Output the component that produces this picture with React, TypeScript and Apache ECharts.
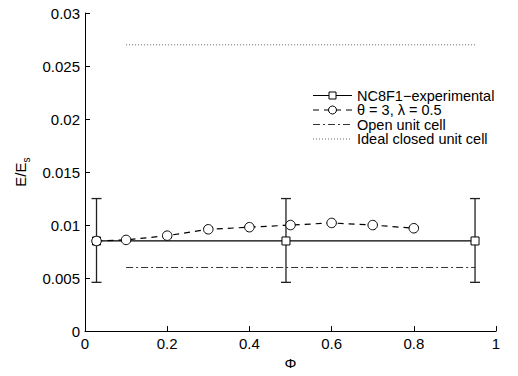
import React, { useEffect, useRef } from "react";
import * as echarts from "echarts";

// Experimental stiffness of NC8F1 foam with its scatter band
const phiExp = [0.028, 0.489, 0.949];
const eExp = [0.0085, 0.0085, 0.0085];
const errLow = [0.0046, 0.0046, 0.0046];
const errHigh = [0.0125, 0.0125, 0.0125];

// Model prediction, theta = 3, lambda = 0.5
const phiModel = [0.028, 0.1, 0.2, 0.3, 0.4, 0.5, 0.6, 0.7, 0.8];
const eModel = [0.0085, 0.0086, 0.009, 0.0096, 0.0098, 0.01, 0.0102, 0.01, 0.0097];

// Reference bounds
const phiOpen = [0.1, 0.95];
const eOpen = [0.006, 0.006];
const phiIdeal = [0.1, 0.95];
const eIdeal = [0.027, 0.027];

const yTicks = ["0", "0.005", "0.01", "0.015", "0.02", "0.025", "0.03"];
const xTicks = ["0", "0.2", "0.4", "0.6", "0.8", "1"];

const seriesNames = [
  "NC8F1\u2212experimental",
  "\u03b8 = 3, \u03bb = 0.5",
  "Open unit cell",
  "Ideal closed unit cell",
];

const FONT = "Liberation Sans, Arial, Helvetica, sans-serif";

const DASH_MODEL = [6, 5];
const DASH_OPEN = [7, 3, 2, 3];
const DASH_IDEAL = [1, 2];

// Hand-built legend: line sample, optional marker, label
function legendGraphic() {
  const x0 = 313;
  const x1 = 352;
  const xm = (x0 + x1) / 2;
  const rows = [95.5, 110, 124.5, 139];
  const entries = [
    { dash: null as number[] | null, color: "#000", marker: "rect" },
    { dash: DASH_MODEL, color: "#000", marker: "circle" },
    { dash: DASH_OPEN, color: "#333", marker: "" },
    { dash: DASH_IDEAL, color: "#666", marker: "" },
  ];
  const children: any[] = [];
  entries.forEach((e, i) => {
    const y = rows[i];
    children.push({
      type: "line",
      shape: { x1: x0, y1: y, x2: x1, y2: y },
      style: { stroke: e.color, lineWidth: 1, lineDash: e.dash || undefined },
      silent: true,
    });
    if (e.marker === "rect") {
      children.push({
        type: "rect",
        shape: { x: xm - 3.5, y: y - 3.5, width: 7, height: 7 },
        style: { fill: "#fff", stroke: "#000", lineWidth: 1 },
        z: 2,
      });
    } else if (e.marker === "circle") {
      children.push({
        type: "circle",
        shape: { cx: xm, cy: y, r: 4 },
        style: { fill: "#fff", stroke: "#000", lineWidth: 1 },
        z: 2,
      });
    }
    children.push({
      type: "text",
      x: 357,
      y: y,
      style: {
        text: seriesNames[i],
        fontFamily: FONT,
        fontSize: 14.5,
        lineHeight: 14,
        fill: "#000",
        verticalAlign: "middle",
        align: "left",
      },
    });
  });
  return [{ type: "group", children }];
}

export default function App() {
  const ref = useRef<HTMLDivElement>(null);

  useEffect(() => {
    if (!ref.current) return;
    const chart = echarts.init(ref.current, undefined, { renderer: "svg" });

    const zip = (xs: number[], ys: number[]) => xs.map((x, i) => [x, ys[i]]);
    const errData = phiExp.map((x, i) => [x, errLow[i], errHigh[i]]);

    chart.setOption({
      animation: false,
      backgroundColor: "#fff",
      textStyle: { fontFamily: FONT },
      grid: { left: 85, right: 22, top: 13, bottom: 36, containLabel: false },
      graphic: legendGraphic(),
      xAxis: {
        type: "value",
        min: 0,
        max: 1,
        interval: 0.2,
        name: "\u03a6",
        nameLocation: "middle",
        nameGap: 21,
        nameTextStyle: { fontFamily: FONT, fontSize: 15, color: "#000" },
        axisLine: { lineStyle: { color: "#000", width: 1 } },
        axisTick: { inside: true, length: 5, lineStyle: { color: "#000" } },
        axisLabel: {
          fontFamily: FONT,
          fontSize: 15,
          color: "#000",
          margin: 5,
          formatter: (v: number) => xTicks[Math.round(v / 0.2)] ?? "",
        },
        splitLine: { show: false },
      },
      yAxis: {
        type: "value",
        min: 0,
        max: 0.03,
        interval: 0.005,
        name: "E/E{s|s}",
        nameLocation: "middle",
        nameRotate: 90,
        nameGap: 52,
        nameTextStyle: {
          fontFamily: FONT,
          fontSize: 15,
          color: "#000",
          rich: { s: { fontFamily: FONT, fontSize: 10, color: "#000", padding: [12, 0, 0, 0] } },
        },
        axisLine: { lineStyle: { color: "#000", width: 1 } },
        axisTick: { inside: true, length: 5, lineStyle: { color: "#000" } },
        axisLabel: {
          fontFamily: FONT,
          fontSize: 15,
          color: "#000",
          margin: 5,
          formatter: (v: number) => yTicks[Math.round(v / 0.005)] ?? "",
        },
        splitLine: { show: false },
      },
      series: [
        {
          name: seriesNames[0],
          type: "line",
          data: zip(phiExp, eExp),
          symbol: "rect",
          symbolSize: 8,
          itemStyle: { color: "#fff", borderColor: "#000", borderWidth: 1 },
          lineStyle: { color: "#000", width: 1.2, type: "solid" },
          z: 3,
        },
        {
          name: seriesNames[1],
          type: "line",
          data: zip(phiModel, eModel),
          symbol: "circle",
          symbolSize: 9.5,
          itemStyle: { color: "#fff", borderColor: "#000", borderWidth: 1 },
          lineStyle: { color: "#000", width: 1.2, type: DASH_MODEL },
          z: 4,
        },
        {
          name: seriesNames[2],
          type: "line",
          data: zip(phiOpen, eOpen),
          symbol: "none",
          lineStyle: { color: "#333", width: 1, type: DASH_OPEN },
        },
        {
          name: seriesNames[3],
          type: "line",
          data: zip(phiIdeal, eIdeal),
          symbol: "none",
          lineStyle: { color: "#666", width: 1, type: DASH_IDEAL },
        },
        {
          type: "custom",
          data: errData,
          z: 2,
          renderItem: (_params: any, api: any) => {
            const x = api.value(0);
            const lo = api.coord([x, api.value(1)]);
            const hi = api.coord([x, api.value(2)]);
            const cap = 5;
            const style = { stroke: "#222", lineWidth: 1.3 };
            return {
              type: "group",
              children: [
                { type: "line", shape: { x1: lo[0], y1: lo[1], x2: hi[0], y2: hi[1] }, style },
                { type: "line", shape: { x1: lo[0] - cap, y1: lo[1], x2: lo[0] + cap, y2: lo[1] }, style },
                { type: "line", shape: { x1: hi[0] - cap, y1: hi[1], x2: hi[0] + cap, y2: hi[1] }, style },
              ],
            };
          },
        },
      ],
    });

    return () => chart.dispose();
  }, []);

  return <div ref={ref} style={{ width: 518, height: 376, margin: -8 }} />;
}
